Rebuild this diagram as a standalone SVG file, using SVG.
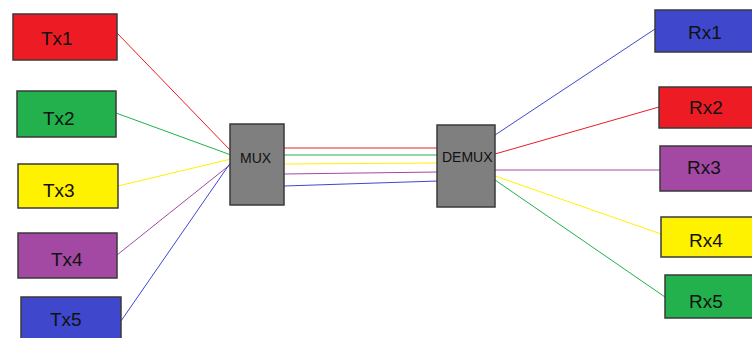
<svg xmlns="http://www.w3.org/2000/svg" width="752" height="338" viewBox="0 0 752 338">
  <style>
    .box { stroke: #3a3a3a; stroke-width: 1.5; }
    .lbl { font-family: "Liberation Sans", Arial, sans-serif; font-size: 19px; fill: #111; }
    .hub { font-family: "Liberation Sans", Arial, sans-serif; font-size: 14px; fill: #111; }
    .w { fill: none; stroke-width: 1; }
    .red { fill: #ED1C24; } .green { fill: #22B14C; } .yellow { fill: #FFF200; }
    .purple { fill: #A349A4; } .blue { fill: #3F48CC; } .gray { fill: #7F7F7F; }
    .sr { stroke: #ED1C24; } .sg { stroke: #22B14C; } .sy { stroke: #FFF200; }
    .sp { stroke: #A349A4; } .sb { stroke: #3F48CC; }
  </style>
  <rect width="752" height="338" fill="#fff"/>

  <!-- connectors -->
  <g id="connectors" class="w">
    <line class="sr" x1="117" y1="33" x2="231" y2="151"/>
    <line class="sg" x1="116" y1="113" x2="231" y2="155"/>
    <line class="sy" x1="118" y1="186" x2="231" y2="159"/>
    <line class="sp" x1="117" y1="255" x2="231" y2="164"/>
    <line class="sb" x1="121" y1="321" x2="231" y2="162"/>

    <line class="sr" x1="284" y1="148" x2="438" y2="148"/>
    <line class="sg" x1="284" y1="155" x2="438" y2="155"/>
    <line class="sy" x1="284" y1="164" x2="438" y2="163"/>
    <line class="sp" x1="284" y1="174" x2="438" y2="172"/>
    <line class="sb" x1="284" y1="186" x2="438" y2="181"/>

    <line class="sb" x1="495" y1="135" x2="655" y2="29"/>
    <line class="sr" x1="495" y1="154" x2="659" y2="107"/>
    <line class="sp" x1="495" y1="170" x2="660" y2="170"/>
    <line class="sy" x1="495" y1="176" x2="661" y2="234"/>
    <line class="sg" x1="495" y1="180" x2="665" y2="297"/>
  </g>

  <!-- transmitters -->
  <g id="tx1"><rect class="box red" x="13" y="14" width="104" height="46"/><text class="lbl" x="41" y="45">Tx1</text></g>
  <g id="tx2"><rect class="box green" x="17" y="91" width="99" height="46"/><text class="lbl" x="43" y="125">Tx2</text></g>
  <g id="tx3"><rect class="box yellow" x="18" y="164" width="100" height="44"/><text class="lbl" x="43" y="197">Tx3</text></g>
  <g id="tx4"><rect class="box purple" x="18" y="233" width="99" height="45"/><text class="lbl" x="51" y="266">Tx4</text></g>
  <g id="tx5"><rect class="box blue" x="21" y="297" width="100" height="45"/><text class="lbl" x="50" y="326">Tx5</text></g>

  <!-- multiplexer / demultiplexer -->
  <g id="mux"><rect class="box gray" x="230" y="124" width="54" height="81"/><text class="hub" x="240" y="163">MUX</text></g>
  <g id="demux"><rect class="box gray" x="437" y="125" width="58" height="82"/><text class="hub" x="442" y="162">DEMUX</text></g>

  <!-- receivers -->
  <g id="rx1"><rect class="box blue" x="655" y="10" width="100" height="42"/><text class="lbl" x="688" y="39">Rx1</text></g>
  <g id="rx2"><rect class="box red" x="659" y="87" width="100" height="41"/><text class="lbl" x="689" y="114">Rx2</text></g>
  <g id="rx3"><rect class="box purple" x="660" y="146" width="100" height="45"/><text class="lbl" x="687" y="174">Rx3</text></g>
  <g id="rx4"><rect class="box yellow" x="661" y="217" width="100" height="40"/><text class="lbl" x="689" y="247">Rx4</text></g>
  <g id="rx5"><rect class="box green" x="665" y="275" width="100" height="43"/><text class="lbl" x="689" y="308">Rx5</text></g>
</svg>
